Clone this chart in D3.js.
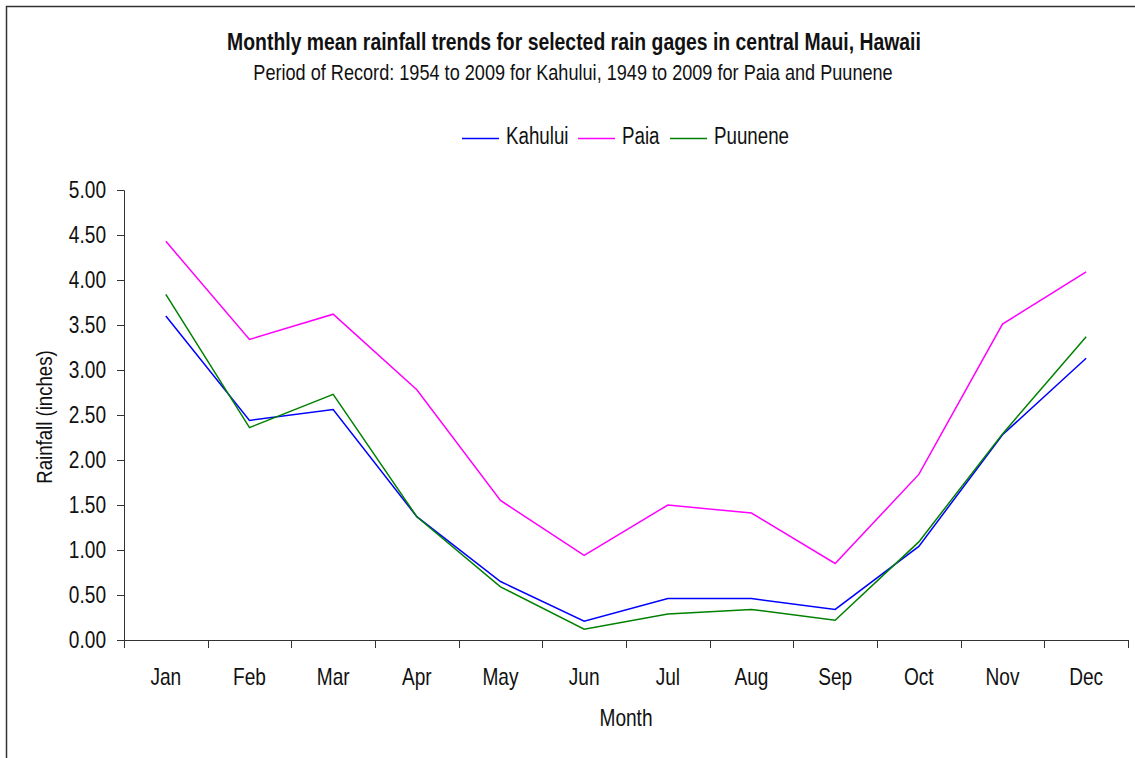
<!DOCTYPE html>
<html>
<head>
<meta charset="utf-8">
<script src="https://cdn.jsdelivr.net/npm/d3@7"></script>
<style>
  html, body { margin: 0; padding: 0; background: #fff; }
  svg { display: block; }
  text { font-family: "Liberation Sans", Arial, sans-serif; fill: #111; }
</style>
</head>
<body>
<svg id="chart" width="1135" height="758"></svg>
<script>
const months = ["Jan","Feb","Mar","Apr","May","Jun","Jul","Aug","Sep","Oct","Nov","Dec"];
const kahului = [3.60, 2.44, 2.56, 1.37, 0.65, 0.21, 0.46, 0.46, 0.34, 1.04, 2.28, 3.13];
const paia    = [4.43, 3.34, 3.62, 2.78, 1.55, 0.94, 1.50, 1.41, 0.85, 1.84, 3.51, 4.09];
const puunene = [3.84, 2.36, 2.73, 1.37, 0.59, 0.12, 0.29, 0.34, 0.22, 1.09, 2.29, 3.37];
const yTicks = [0, 0.5, 1, 1.5, 2, 2.5, 3, 3.5, 4, 4.5, 5];
const seriesNames = ["Kahului", "Paia", "Puunene"];
const seriesColors = ["#0000ff", "#ff00ff", "#008000"];
const titleText = "Monthly mean rainfall trends for selected rain gages in central Maui, Hawaii";
const subtitleText = "Period of Record: 1954 to 2009 for Kahului, 1949 to 2009 for Paia and Puunene";

(function () {
const series = [kahului, paia, puunene];
const svg = d3.select("#chart");
const FS = 23, SX = 0.83;

// place a horizontally condensed text
function ntext(parent, px, py, str, opts = {}) {
  const t = parent.append("text")
    .attr("x", 0).attr("y", 0)
    .attr("text-anchor", opts.anchor || "start")
    .style("font-size", (opts.size || FS) + "px")
    .style("font-weight", opts.bold ? "bold" : "normal")
    .text(str);
  let sx = opts.sx || SX;
  if (opts.width) {
    const w = t.node().getComputedTextLength();
    sx = opts.width / w;
  }
  t.attr("transform", `translate(${px},${py}) ${opts.rotate ? "rotate(" + opts.rotate + ")" : ""} scale(${sx},1)`);
  return t;
}

// border (top & left visible, right side cropped)
svg.append("path")
  .attr("d", "M6.5,758 L6.5,6.5 L1135,6.5")
  .attr("fill", "none").attr("stroke", "#333").attr("stroke-width", 1.5);

const pL = 124, pR = 1128, pT = 190, pB = 640;
const x = d3.scaleBand().domain(months).range([pL, pR]).padding(0);
const y = d3.scaleLinear().domain([0, 5]).range([pB, pT]);

// titles
ntext(svg, 574, 50, titleText, { anchor: "middle", bold: true, width: 694 });
ntext(svg, 573, 80, subtitleText, { anchor: "middle", width: 640 });

// y axis
const yAxis = d3.axisLeft(y).tickValues(yTicks).tickFormat(d3.format(".2f")).tickSizeOuter(0).tickSize(7).tickPadding(11);
const gy = svg.append("g").attr("transform", `translate(${pL},0)`).call(yAxis);
gy.selectAll("text")
  .style("font-size", FS + "px").style("font-family", null).attr("fill", "#111")
  .attr("x", -18 / SX).attr("transform", `scale(${SX},1)`);
gy.select(".domain").attr("stroke", "#333");
gy.selectAll(".tick line").attr("stroke", "#333");

// x axis
const gx = svg.append("g").attr("transform", `translate(0,${pB})`);
gx.append("line").attr("x1", pL).attr("x2", pR).attr("y1", 0.5).attr("y2", 0.5).attr("stroke", "#333");
const boundaries = months.map(m => x(m)).concat([x(months[months.length-1]) + x.bandwidth()]);
gx.selectAll("line.tk").data(boundaries).enter().append("line").attr("class", "tk")
  .attr("x1", d => Math.round(d) + 0.5).attr("x2", d => Math.round(d) + 0.5)
  .attr("y1", 0).attr("y2", 8).attr("stroke", "#333");
months.forEach(m => ntext(gx, x(m) + x.bandwidth() / 2, 45, m, { anchor: "middle" }));

// axis titles
ntext(svg, (pL + pR) / 2, 726, "Month", { anchor: "middle" });
ntext(svg, 52, (pT + pB) / 2 + 2, "Rainfall (inches)", { anchor: "middle", rotate: -90, sx: 0.81 });

// lines
const line = d3.line().x((d, i) => x(months[i]) + x.bandwidth() / 2).y(d => y(d));
series.forEach((s, i) => {
  svg.append("path").datum(s).attr("d", line).attr("fill", "none")
    .attr("stroke", seriesColors[i]).attr("stroke-width", 1.5).attr("stroke-linejoin", "miter");
});

// legend
const legendX = [462, 578, 670];
const lg = svg.append("g");
seriesNames.forEach((n, i) => {
  lg.append("line").attr("x1", legendX[i]).attr("x2", legendX[i] + 37).attr("y1", 138.5).attr("y2", 138.5)
    .attr("stroke", seriesColors[i]).attr("stroke-width", 1.5);
  ntext(lg, legendX[i] + 44, 144, n, { sx: 0.815 });
});
})();
</script>
</body>
</html>
